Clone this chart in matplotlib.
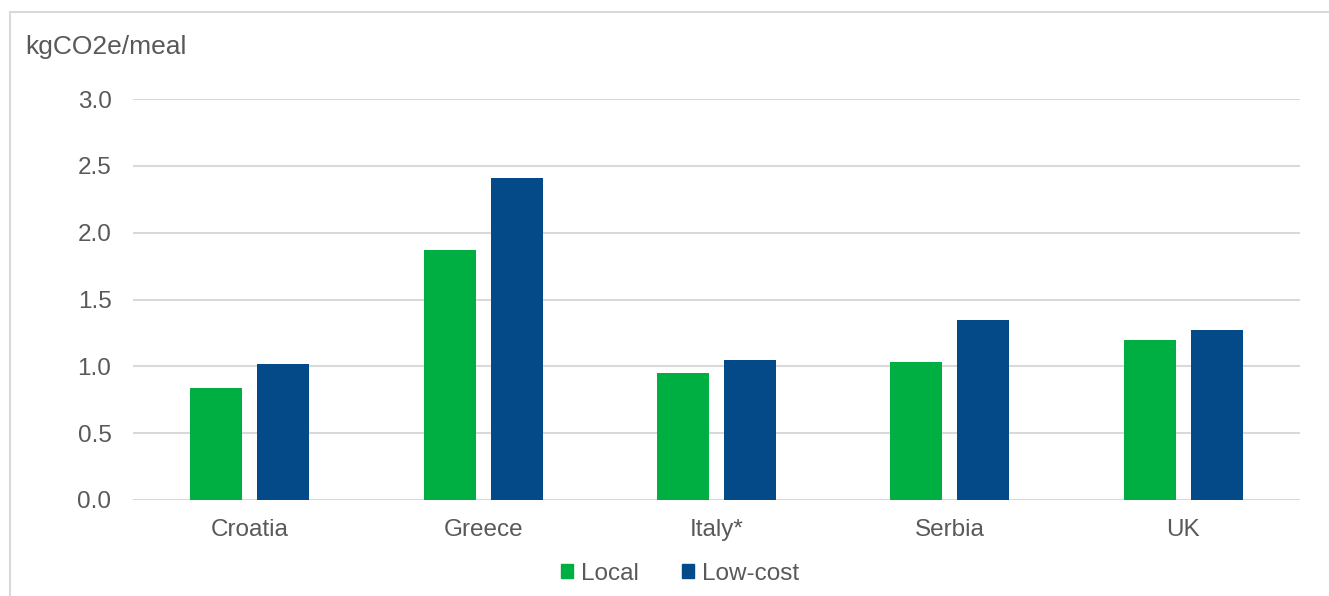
import matplotlib.pyplot as plt
import numpy as np
from matplotlib.lines import Line2D
from matplotlib.patches import Patch

countries = ['Croatia', 'Greece', 'Italy*', 'Serbia', 'UK']
local = [0.84, 1.87, 0.95, 1.03, 1.20]
low_cost = [1.02, 2.41, 1.05, 1.35, 1.27]
yticks = [0.0, 0.5, 1.0, 1.5, 2.0, 2.5, 3.0]

green = '#00AF41'
blue = '#054A88'
text_col = '#595959'
grid_col = '#D9D9D9'

plt.rcParams['font.family'] = ['Liberation Sans', 'DejaVu Sans']

fig = plt.figure(figsize=(13.29, 5.96), dpi=100)
ax = fig.add_axes([133 / 1329, 1 - 500 / 596, 1167 / 1329, 401 / 596])

x = np.arange(len(countries))
w = 0.223
off = 0.1435
ax.bar(x - off, local, w, color=green, label='Local', zorder=3)
ax.bar(x + off, low_cost, w, color=blue, label='Low-cost', zorder=3)

ax.set_xlim(-0.5, len(countries) - 0.5)
ax.set_ylim(0, 3.0)
ax.set_yticks(yticks)
ax.set_yticklabels([f'{v:.1f}' for v in yticks])
ax.set_xticks(x)
ax.set_xticklabels(countries)
ax.yaxis.grid(True, color=grid_col, linewidth=1.5, zorder=0)
for s in ax.spines.values():
    s.set_visible(False)
ax.tick_params(axis='both', length=0, colors=text_col, labelsize=17.5)
ax.tick_params(axis='y', pad=15.5)
ax.tick_params(axis='x', pad=14)

fig.text(25 / 1329, 1 - 47 / 596, 'kgCO2e/meal', color=text_col, fontsize=19,
         va='center', ha='left')

# outer chart frame, left and top edges only
fig.add_artist(Line2D([9.5 / 1329, 9.5 / 1329], [0, 1 - 12 / 596],
                      color=grid_col, linewidth=1.5))
fig.add_artist(Line2D([9.5 / 1329, 1], [1 - 12 / 596, 1 - 12 / 596],
                      color=grid_col, linewidth=1.5))

handles = [Patch(color=green, label='Local'), Patch(color=blue, label='Low-cost')]
fig.legend(handles=handles, loc='center', bbox_to_anchor=(680 / 1329, 1 - 574 / 596),
           ncol=2, frameon=False, fontsize=17.5, labelcolor=text_col,
           handlelength=0.5, handleheight=0.5, handletextpad=0.3, columnspacing=1.8)

fig.savefig('out.png', dpi=100)
